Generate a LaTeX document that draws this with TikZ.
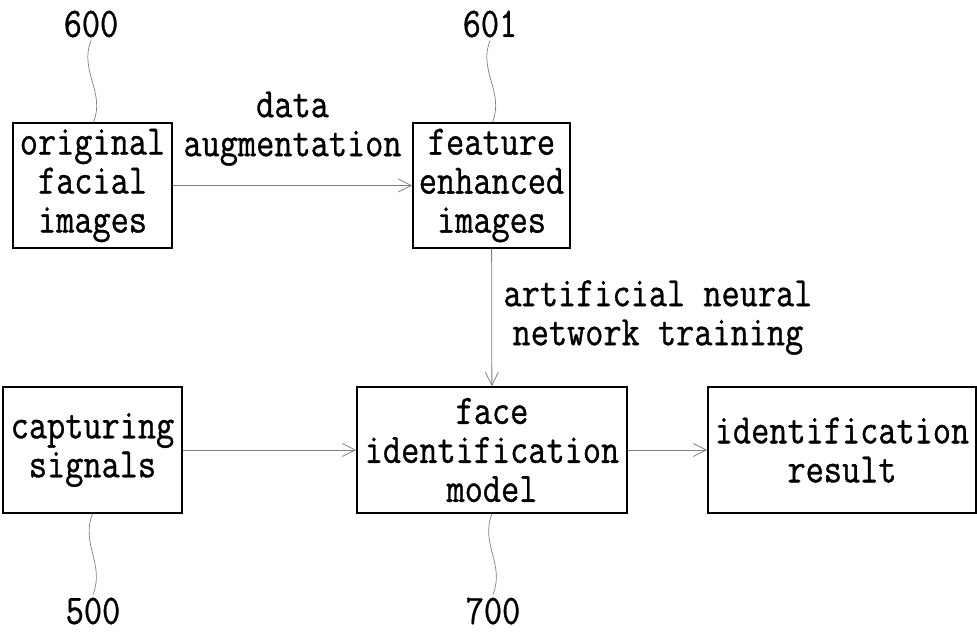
\documentclass[tikz,border=0pt]{standalone}
\usepackage{fontspec}
\setmonofont{Latin Modern Mono}[FakeStretch=0.84, FakeBold=0.8]
\usepackage{tikz}
\usetikzlibrary{arrows.meta,positioning,calc}
\tikzset{x=1pt, y=-1pt, % pixel grid, y pointing down
        every node/.style={font=\ttfamily\fontsize{42}{39}\selectfont},
        box/.style={ % the blocks of the flow
            draw, line width=1.6pt,
            align=center, inner sep=0pt},
        tag/.style={inner sep=3pt}, % reference numerals
        leader/.style={draw=gray, line width=0.7pt},
        every edge/.style={ % the connectors
            draw=gray,
            -{Straight Barb[length=13pt,width=13pt]},
            line width=0.8pt}
        }
\begin{document}
\begin{tikzpicture}
    \useasboundingbox (0,0) rectangle (977,633);

    \node[box, minimum width=159pt, minimum height=125pt] (orig) at (92.5,185.5) {original\\facial\\images};
    \node[box, minimum width=157pt, minimum height=125pt] (feat) at (491.5,185.5) {feature\\enhanced\\images};
    \node[box, minimum width=179pt, minimum height=126pt] (capt) at (92.5,450) {capturing\\signals};
    \node[box, minimum width=270pt, minimum height=126pt] (model) at (492,450) {face\\identification\\model};
    \node[box, minimum width=268pt, minimum height=126pt] (result) at (842,450) {identification\\result};

    \node[tag] (t600) at (91,24) {600};
    \node[tag] (t601) at (490,24) {601};
    \node[tag] (t500) at (93,611) {500};
    \node[tag] (t700) at (493,611) {700};

    \draw (orig) edge node[above=16pt, align=center] {data\\augmentation} (feat);
    \draw (feat) edge node[right=8pt, align=center] {artificial neural\\network training} (model);
    \draw (capt) edge (model);
    \draw (model) edge (result);

    % wavy leaders to the numerals
    \draw[leader] ([xshift=1pt]orig.north) .. controls +(12,-30) and +(-12,30) .. (t600.south);
    \draw[leader] ([xshift=1pt]feat.north) .. controls +(12,-30) and +(-12,30) .. (t601.south);
    \draw[leader] (capt.south) .. controls +(-12,30) and +(12,-30) .. (t500.north);
    \draw[leader] (model.south) .. controls +(-12,30) and +(12,-30) .. (t700.north);
\end{tikzpicture}
\end{document}
